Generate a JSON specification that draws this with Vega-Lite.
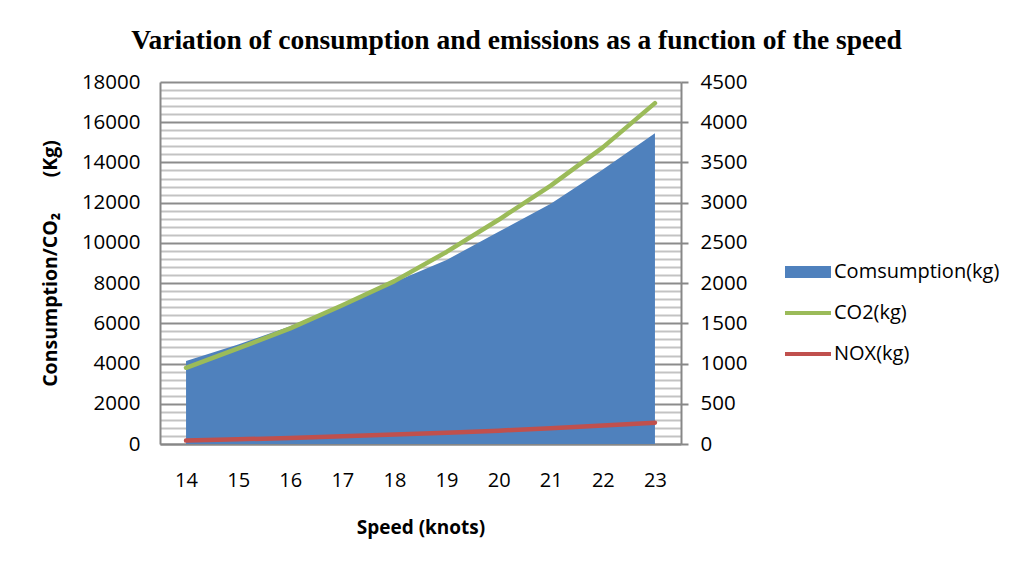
{
  "$schema": "https://vega.github.io/schema/vega-lite/v6.json",
  "width": 521,
  "height": 362,
  "autosize": {"type": "none"},
  "padding": {"left": 160, "top": 82, "right": 336, "bottom": 122},
  "background": "white",
  "title": {
    "text": "Variation of consumption and emissions as a function of the speed",
    "font": "Liberation Serif",
    "fontSize": 27.5,
    "fontWeight": "bold",
    "color": "#000000",
    "anchor": "middle",
    "dx": 96,
    "offset": 18
  },
  "data": {
    "values": [
      {"speed": 14, "series": "Comsumption(kg)", "value": 4130},
      {"speed": 15, "series": "Comsumption(kg)", "value": 4950},
      {"speed": 16, "series": "Comsumption(kg)", "value": 5850},
      {"speed": 17, "series": "Comsumption(kg)", "value": 6950},
      {"speed": 18, "series": "Comsumption(kg)", "value": 8050},
      {"speed": 19, "series": "Comsumption(kg)", "value": 9150},
      {"speed": 20, "series": "Comsumption(kg)", "value": 10550},
      {"speed": 21, "series": "Comsumption(kg)", "value": 11950},
      {"speed": 22, "series": "Comsumption(kg)", "value": 13650},
      {"speed": 23, "series": "Comsumption(kg)", "value": 15450},
      {"speed": 14, "series": "CO2(kg)", "value": 3790},
      {"speed": 15, "series": "CO2(kg)", "value": 4750},
      {"speed": 16, "series": "CO2(kg)", "value": 5750},
      {"speed": 17, "series": "CO2(kg)", "value": 6900},
      {"speed": 18, "series": "CO2(kg)", "value": 8100},
      {"speed": 19, "series": "CO2(kg)", "value": 9550},
      {"speed": 20, "series": "CO2(kg)", "value": 11150},
      {"speed": 21, "series": "CO2(kg)", "value": 12850},
      {"speed": 22, "series": "CO2(kg)", "value": 14750},
      {"speed": 23, "series": "CO2(kg)", "value": 16950},
      {"speed": 14, "series": "NOX(kg)", "value": 42},
      {"speed": 15, "series": "NOX(kg)", "value": 58},
      {"speed": 16, "series": "NOX(kg)", "value": 76},
      {"speed": 17, "series": "NOX(kg)", "value": 96},
      {"speed": 18, "series": "NOX(kg)", "value": 118},
      {"speed": 19, "series": "NOX(kg)", "value": 141},
      {"speed": 20, "series": "NOX(kg)", "value": 166},
      {"speed": 21, "series": "NOX(kg)", "value": 196},
      {"speed": 22, "series": "NOX(kg)", "value": 229},
      {"speed": 23, "series": "NOX(kg)", "value": 265}
    ]
  },
  "encoding": {
    "x": {
      "field": "speed",
      "type": "quantitative",
      "scale": {"domain": [13.5, 23.5], "nice": false, "zero": false},
      "axis": {
        "title": "Speed (knots)",
        "values": [14, 15, 16, 17, 18, 19, 20, 21, 22, 23],
        "grid": false,
        "ticks": false,
        "domainColor": "#878787",
        "domainWidth": 2,
        "labelFont": "Open Sans",
        "labelFontSize": 20,
        "labelColor": "#000000",
        "labelPadding": 26,
        "labelFlush": false,
        "titleFont": "Open Sans",
        "titleFontSize": 19,
        "titleFontWeight": "bold",
        "titleColor": "#000000",
        "titlePadding": 28
      }
    },
    "color": {
      "field": "series",
      "type": "nominal",
      "scale": {
        "domain": ["Comsumption(kg)", "CO2(kg)", "NOX(kg)"],
        "range": ["#4f81bd", "#9bbb59", "#c0504d"]
      },
      "legend": {
        "title": null,
        "orient": "none",
        "legendX": 628,
        "legendY": 170,
        "padding": 0,
        "symbolSize": 1600,
        "symbolStrokeWidth": 0,
        "labelFont": "Open Sans",
        "labelFontSize": 20,
        "labelColor": "#000000",
        "labelOffset": 6,
        "labelLimit": 400,
        "rowPadding": 11,
        "encode": {
          "symbols": {
            "update": {
              "shape": {"signal": "datum.value === 'Comsumption(kg)' ? 'M-1.15,-0.3H1.15V0.3H-1.15Z' : 'M-1.15,-0.1H1.15V0.1H-1.15Z'"},
              "fill": {"scale": "color", "field": "value"},
              "stroke": {"value": "transparent"},
              "strokeWidth": {"value": 0},
              "opacity": {"value": 1}
            }
          }
        }
      }
    }
  },
  "layer": [
    {
      "transform": [{"filter": "datum.series === 'Comsumption(kg)'"}],
      "mark": {"type": "area", "opacity": 1},
      "encoding": {
        "y": {
          "field": "value",
          "type": "quantitative",
          "scale": {"domain": [0, 18000], "nice": false},
          "axis": {
            "title": "Consumption/CO₂\u00a0\u00a0\u00a0\u00a0\u00a0\u00a0\u00a0(Kg)",
            "orient": "left",
            "values": [0, 2000, 4000, 6000, 8000, 10000, 12000, 14000, 16000, 18000],
            "format": "d",
            "grid": false,
            "ticks": false,
            "domainColor": "#878787",
            "domainWidth": 2,
            "labelFont": "Open Sans",
            "labelFontSize": 20.5,
            "labelColor": "#000000",
            "labelPadding": 20,
            "titleFont": "Open Sans",
            "titleFontSize": 19.5,
            "titleFontWeight": "bold",
            "titleColor": "#000000",
            "titlePadding": 21
          }
        }
      }
    },
    {
      "transform": [{"filter": "datum.series === 'CO2(kg)'"}],
      "mark": {"type": "line", "strokeWidth": 4.5, "strokeCap": "round", "strokeJoin": "round"},
      "encoding": {
        "y": {
          "field": "value",
          "type": "quantitative",
          "scale": {"domain": [0, 18000], "nice": false},
          "axis": null
        }
      }
    },
    {
      "transform": [{"filter": "datum.series === 'NOX(kg)'"}],
      "mark": {"type": "line", "strokeWidth": 4.5, "strokeCap": "round", "strokeJoin": "round"},
      "encoding": {
        "y": {
          "field": "value",
          "type": "quantitative",
          "scale": {"domain": [0, 4500], "nice": false},
          "axis": {
            "title": null,
            "orient": "right",
            "values": [0, 100, 200, 300, 400, 500, 600, 700, 800, 900, 1000, 1100, 1200, 1300, 1400, 1500, 1600, 1700, 1800, 1900, 2000, 2100, 2200, 2300, 2400, 2500, 2600, 2700, 2800, 2900, 3000, 3100, 3200, 3300, 3400, 3500, 3600, 3700, 3800, 3900, 4000, 4100, 4200, 4300, 4400, 4500],
            "labelExpr": "datum.value % 500 === 0 ? datum.label : ''",
            "format": "d",
            "grid": true,
            "gridColor": {"condition": {"test": "datum.value % 500 === 0", "value": "#8c8c8c"}, "value": "#c3c3c3"},
            "gridWidth": 2,
            "ticks": true,
            "tickSize": 7,
            "tickWidth": 2,
            "tickColor": "#878787",
            "tickOpacity": {"condition": {"test": "datum.value % 500 === 0", "value": 1}, "value": 0},
            "domainColor": "#878787",
            "domainWidth": 2,
            "labelFont": "Open Sans",
            "labelFontSize": 20.5,
            "labelColor": "#000000",
            "labelPadding": 12,
            "labelOverlap": false,
            "labelBound": false
          }
        }
      }
    }
  ],
  "resolve": {"scale": {"y": "independent"}},
  "config": {
    "view": {"stroke": null},
    "axis": {"zindex": 0}
  }
}
